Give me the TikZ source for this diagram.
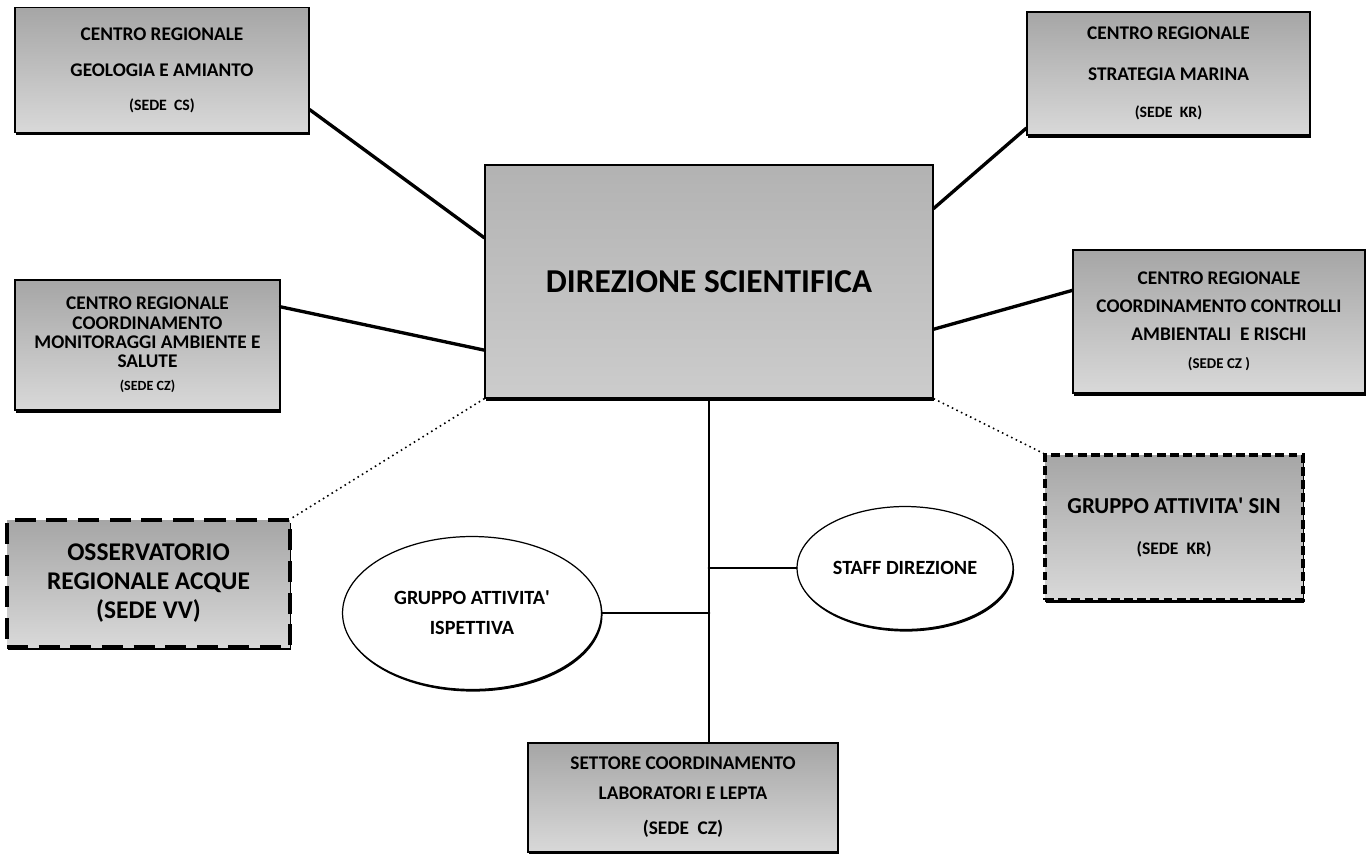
\documentclass[tikz,border=0pt]{standalone}
\usepackage{fontspec}
\setmainfont{Carlito}
\usepackage{tikz}
\usetikzlibrary{shapes.geometric, shadows}
\usetikzlibrary{calc, arrows.meta}

\begin{document}
\begin{tikzpicture}[x=0.02cm, y=-0.02cm,
        unit/.style={draw=black, line width=0.7pt, top color=gray!70, bottom color=gray!30,
            drop shadow={shadow xshift=0.4pt, shadow yshift=-1.6pt, opacity=1, fill=black},
            align=center, font=\bfseries\fontsize{11}{13}\selectfont, inner sep=2pt},
        project/.style={unit, drop shadow={opacity=0}},
        group/.style={ellipse, draw=black, line width=0.7pt, fill=white,
            drop shadow={shadow xshift=0.6pt, shadow yshift=-1.2pt, opacity=1, fill=black},
            align=center, font=\bfseries\fontsize{11.5}{17}\selectfont, inner sep=0pt},
        link/.style={line width=1.9pt, line cap=round},
        weaklink/.style={line width=0.9pt, dotted}]
        \useasboundingbox (0,0) rectangle (1372,853);

        % Direzione
        \node[unit, minimum width=8.96cm, minimum height=4.66cm, top color=gray!60, bottom color=gray!40,
            font=\bfseries\fontsize{19}{22}\selectfont] (dir) at (709,281.5) {DIREZIONE SCIENTIFICA};

        % Centri regionali
        \node[unit, minimum width=5.88cm, minimum height=2.5cm] (geo) at (162,70)
            {CENTRO REGIONALE\\[8pt] GEOLOGIA E AMIANTO\\[6pt] {\fontsize{9}{11}\selectfont (SEDE\ \ CS)}};
        \node[unit, minimum width=5.66cm, minimum height=2.46cm] (mar) at (1168.5,73.5)
            {CENTRO REGIONALE\\[10pt] STRATEGIA MARINA\\[8pt] {\fontsize{9}{11}\selectfont (SEDE\ \ KR)}};
        \node[unit, minimum width=5.3cm, minimum height=2.6cm, font=\bfseries\fontsize{11}{11}\selectfont] (mon) at (147.5,345)
            {CENTRO REGIONALE\\ COORDINAMENTO\\ MONITORAGGI AMBIENTE E\\ SALUTE\\[2pt]
            {\fontsize{8}{10}\selectfont (SEDE CZ)}};
        \node[unit, minimum width=5.84cm, minimum height=2.86cm, font=\bfseries\fontsize{11}{16}\selectfont] (amb) at (1219,321.5)
            {CENTRO REGIONALE\\ COORDINAMENTO CONTROLLI\\ AMBIENTALI\ \ E RISCHI\\
            {\fontsize{8.5}{10}\selectfont (SEDE CZ )}};

        % Osservatorio e gruppo SIN
        \node[project, minimum width=5.66cm, minimum height=2.54cm, line width=2.2pt,
            dash pattern=on 12pt off 6pt, font=\bfseries\fontsize{14.5}{16.5}\selectfont] (oss) at (148.5,583.5)
            {OSSERVATORIO\\ REGIONALE ACQUE\\ (SEDE VV)};
        \node[project, minimum width=5.16cm, minimum height=2.9cm, line width=2pt,
            dash pattern=on 5pt off 2.5pt, font=\bfseries\fontsize{13}{15}\selectfont] (sin) at (1174,527.5)
            {GRUPPO ATTIVITA{\textquotesingle} SIN\\[8pt] {\fontsize{10}{12}\selectfont (SEDE\ \ KR)}};

        % Gruppi
        \node[group, minimum width=5.18cm, minimum height=3.06cm] (isp) at (472,613)
            {GRUPPO ATTIVITA{\textquotesingle}\\ ISPETTIVA};
        \node[group, minimum width=4.32cm, minimum height=2.46cm] (staff) at (905,568) {STAFF DIREZIONE};

        % Settore
        \node[unit, minimum width=6.2cm, minimum height=2.18cm, font=\bfseries\fontsize{11}{17}\selectfont] (lab) at (683,797.5)
            {SETTORE COORDINAMENTO\\ LABORATORI E LEPTA\\[3pt] (SEDE\ \ CZ)};

        % Collegamenti
        \draw[link] (geo.-15) -- (dir.169);
        \draw[link] (mar.201) -- (dir.18);
        \draw[link] (mon.16) -- (dir.197);
        \draw[link] (amb.168) -- (dir.-12);
        \draw[weaklink] (dir.south west) -- (oss.north east);
        \draw[weaklink] (dir.south east) -- (sin.north west);
        \draw[link, line width=1.6pt] (dir.south) -- (dir.south |- lab.north);
        \draw[link, line width=1.6pt] (isp.east) -- (isp.east -| dir.south);
        \draw[link, line width=1.6pt] (staff.west) -- (staff.west -| dir.south);
    \end{tikzpicture}
\end{document}
